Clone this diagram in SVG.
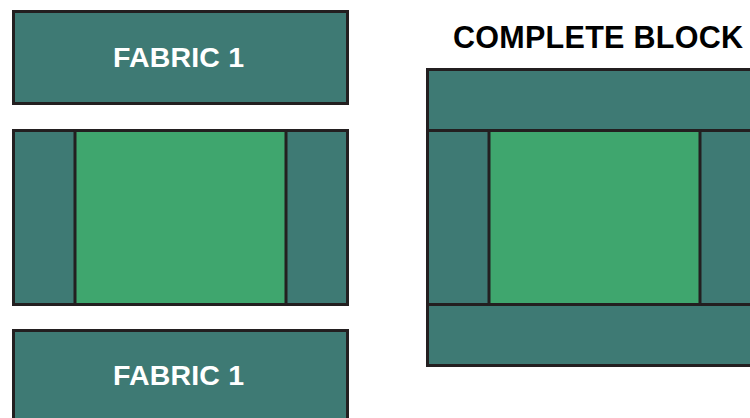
<svg xmlns="http://www.w3.org/2000/svg" width="750" height="418" viewBox="0 0 750 418">
<style>
.t{fill:#3e7a74;stroke:#231f20;stroke-width:3}
.g{fill:#3fa66e;stroke:#231f20;stroke-width:3}
.lbl{font-family:"Liberation Sans",Arial,sans-serif;font-weight:700;font-size:28.5px;fill:#ffffff;text-anchor:middle}
.ttl{font-family:"Liberation Sans",Arial,sans-serif;font-weight:700;font-size:30.5px;fill:#000000;text-anchor:middle}
</style>
<rect width="750" height="418" fill="#ffffff"/>
<g id="fabric-top">
<rect class="t" x="13.5" y="11.5" width="334" height="92"/>
<text class="lbl" x="178.5" y="67" textLength="131" lengthAdjust="spacing">FABRIC 1</text>
</g>
<g id="middle-strip">
<rect class="t" x="13.5" y="130.5" width="334" height="174"/>
<rect class="g" x="75" y="130.5" width="211" height="174"/>
</g>
<g id="fabric-bottom">
<rect class="t" x="13.5" y="330.5" width="334" height="100"/>
<text class="lbl" x="178.5" y="385" textLength="131" lengthAdjust="spacing">FABRIC 1</text>
</g>
<g id="complete-block">
<text class="ttl" x="598" y="48" textLength="290" lengthAdjust="spacing">COMPLETE BLOCK</text>
<rect class="t" x="427.5" y="69.5" width="340" height="296"/>
<rect class="t" x="427.5" y="69.5" width="340" height="61"/>
<rect class="t" x="427.5" y="304.5" width="340" height="61"/>
<rect class="g" x="489" y="130.5" width="211" height="174"/>
</g>
<g id="connectors"/>
</svg>
